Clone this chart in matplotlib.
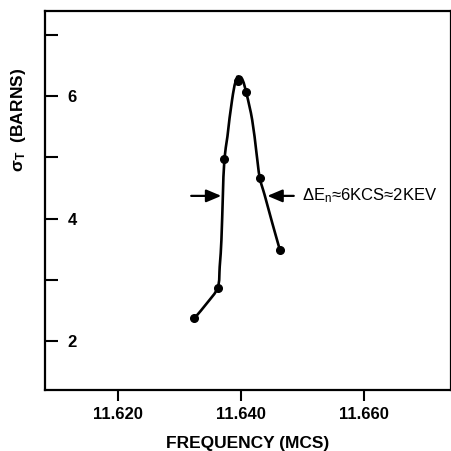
import matplotlib
matplotlib.use("Agg")
import matplotlib.pyplot as plt
import numpy as np
from matplotlib.path import Path
from matplotlib.patches import PathPatch

# measured points (frequency in MCS, total cross section in barns)
freq = [11.6324, 11.6362, 11.6373, 11.6396, 11.6408, 11.6431, 11.6463]
sigma = [2.37, 2.87, 4.97, 6.25, 6.06, 4.66, 3.49]

# hand drawn curve through the points
curve_freq = [11.63241, 11.63448, 11.63621, 11.63654, 11.63682, 11.63706,
              11.63731, 11.63780, 11.63856, 11.63938, 11.64008, 11.64085,
              11.64183, 11.64253, 11.64307, 11.64384, 11.64509, 11.64633]
curve_sigma = [2.37, 2.62, 2.87, 3.21, 3.65, 4.39, 4.97, 5.34, 5.94, 6.31,
               6.30, 6.06, 5.61, 5.07, 4.66, 4.39, 3.93, 3.49]

# width marker arrows
arrow_y = 4.37
left_arrow = (11.6319, 11.6368)
right_arrow = (11.6486, 11.6443)
note_x = 11.6500
note = r"$\mathregular{\Delta E_n}$≈6KCS≈2KEV"

xticks = [11.620, 11.640, 11.660]
xtick_labels = ["11.620", "11.640", "11.660"]
yticks = [2, 3, 4, 5, 6, 7]
ytick_labels = ["2", "", "4", "", "6", ""]


def smooth_path(ax, xs, ys):
    # bezier segments with tangents from the neighbours, built in pixels
    pts = ax.transData.transform(np.column_stack([xs, ys]))
    n = len(pts)
    tang = []
    for i in range(n):
        a = pts[max(i - 1, 0)]
        b = pts[min(i + 1, n - 1)]
        t = b - a
        tang.append(t / np.hypot(*t))
    verts = [pts[0]]
    codes = [Path.MOVETO]
    for i in range(n - 1):
        d = np.hypot(*(pts[i + 1] - pts[i])) / 3
        verts += [pts[i] + tang[i] * d, pts[i + 1] - tang[i + 1] * d, pts[i + 1]]
        codes += [Path.CURVE4] * 3
    verts = ax.transData.inverted().transform(np.array(verts))
    return Path(verts, codes)


plt.rcParams['font.family'] = ['Liberation Sans', 'DejaVu Sans']

fig = plt.figure(figsize=(4.52, 4.51), dpi=100)
ax = fig.add_axes([0.0996, 0.1353, 0.8982, 0.8404])
ax.set_xlim(11.6081, 11.6742)
ax.set_ylim(1.2, 7.39)

ax.add_patch(PathPatch(smooth_path(ax, curve_freq, curve_sigma), fill=False,
                       lw=1.9, color='black', capstyle='round'))
ax.plot(freq, sigma, 'o', color='black', markersize=5.5, zorder=3)

arrow_style = dict(arrowstyle='-|>,head_length=0.9,head_width=0.38',
                   color='black', lw=1.6, shrinkA=0, shrinkB=0)
ax.annotate('', xy=(left_arrow[1], arrow_y), xytext=(left_arrow[0], arrow_y),
            arrowprops=arrow_style)
ax.annotate('', xy=(right_arrow[1], arrow_y), xytext=(right_arrow[0], arrow_y),
            arrowprops=arrow_style)
ax.text(note_x, arrow_y, note, fontsize=12, va='center', ha='left')

ax.set_xticks(xticks)
ax.set_xticklabels(xtick_labels, fontsize=12, fontweight='bold')
ax.set_yticks(yticks)
ax.set_yticklabels(ytick_labels, fontsize=12, fontweight='bold')

ax.tick_params(axis='x', direction='out', length=8, width=1.5, pad=4)
ax.tick_params(axis='y', direction='in', length=9.5, width=1.5, pad=-23)

for spine in ax.spines.values():
    spine.set_linewidth(1.6)

ax.set_xlabel('FREQUENCY (MCS)', fontsize=12.5, fontweight='bold', labelpad=10)
ax.text(-0.0665, 0.712, r'$\mathregular{\sigma_T}$  (BARNS)', fontsize=12.5,
        fontweight='bold', rotation=90, ha='center', va='center',
        transform=ax.transAxes)

fig.savefig('out.png', dpi=100)
